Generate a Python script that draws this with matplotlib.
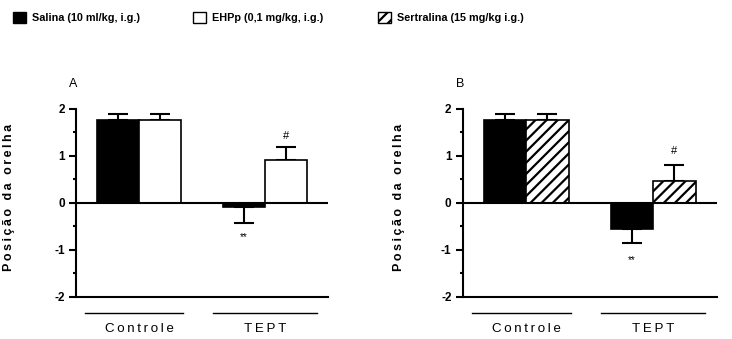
import matplotlib
matplotlib.use("Agg")
import matplotlib.pyplot as plt
import matplotlib.patches as mpatches
import numpy as np

# data
groups = ["Controle", "TEPT"]
salina_a = [1.77, -0.09]
salina_a_err = [0.13, 0.34]
ehpp = [1.77, 0.92]
ehpp_err = [0.13, 0.26]
salina_b = [1.77, -0.56]
salina_b_err = [0.13, 0.29]
sertralina = [1.77, 0.46]
sertralina_err = [0.13, 0.34]
yticks = [-2, -1, 0, 1, 2]
legend_labels = ["Salina (10 ml/kg, i.g.)", "EHPp (0,1 mg/kg, i.g.)", "Sertralina (15 mg/kg i.g.)"]
ylabel = "Posição da orelha"

FONT = ["Liberation Sans", "DejaVu Sans"]
plt.rcParams["font.family"] = FONT
plt.rcParams["hatch.linewidth"] = 1.6
plt.rcParams["hatch.color"] = "black"

THIN = "\u2009"


def spaced(s, sep=THIN):
    return sep.join(s)


fig = plt.figure(figsize=(7.32, 3.39), dpi=100)
ax_a = fig.add_axes([76 / 732, 0.1248, 252 / 732, 0.5537])
ax_b = fig.add_axes([462.7 / 732, 0.1248, 254 / 732, 0.5537])

W = 0.335
x = np.arange(len(groups))


def draw_bars(ax, vals, errs, color, hatch=""):
    xs = x + (-W / 2 if color == "black" else W / 2)
    ax.bar(xs, vals, width=W, color=color, edgecolor="black", linewidth=1.2,
           hatch=hatch, zorder=3)
    lo = [e if v < 0 else 0 for v, e in zip(vals, errs)]
    hi = [e if v >= 0 else 0 for v, e in zip(vals, errs)]
    ax.errorbar(xs, vals, yerr=[lo, hi], fmt="none", ecolor="black",
                elinewidth=1.5, capsize=7.5, capthick=1.5, zorder=2)


def style_axes(ax, label_x):
    ax.set_xlim(-0.5, 1.5)
    ax.set_ylim(-2, 2)
    ax.axhline(0, color="black", lw=1.5, zorder=4)
    ax.spines["top"].set_visible(False)
    ax.spines["right"].set_visible(False)
    ax.spines["left"].set_linewidth(1.5)
    ax.spines["bottom"].set_linewidth(1.5)
    ax.set_xticks([])
    ax.set_yticks(yticks)
    ax.set_yticks([-1.5, -0.5, 0.5, 1.5], minor=True)
    ax.set_yticklabels([str(t) for t in yticks], fontsize=8.5, fontweight="bold")
    ax.tick_params(axis="y", which="major", length=5, width=1.5, pad=3)
    ax.tick_params(axis="y", which="minor", length=2.5, width=1.5)
    ax.set_ylabel(spaced(ylabel), fontsize=9, fontweight="bold")
    ax.yaxis.set_label_coords(label_x, 0.527)
    tr = ax.get_xaxis_transform()
    for gx0, gx1 in [(-0.43, 0.35), (0.59, 1.41)]:
        ax.plot([gx0, gx1], [-0.088, -0.088], color="black", lw=1.0,
                transform=tr, clip_on=False)
    for gx, name in zip(x, groups):
        ax.text(gx, -0.174, spaced(name), transform=tr, ha="center",
                va="center", fontsize=9.6)


# panel A
draw_bars(ax_a, salina_a, salina_a_err, "black")
draw_bars(ax_a, ehpp, ehpp_err, "white")
style_axes(ax_a, -0.244)
ax_a.text(1 - W / 2, -0.72, "**", ha="center", va="center", fontsize=7)
ax_a.text(1 + W / 2, 1.42, "#", ha="center", va="center", fontsize=8)
ax_a.text(-0.01, 1.133, "A", transform=ax_a.transAxes, ha="center",
          va="center", fontsize=9)

# panel B
draw_bars(ax_b, salina_b, salina_b_err, "black")
draw_bars(ax_b, sertralina, sertralina_err, "white", hatch="///")
style_axes(ax_b, -0.227)
ax_b.text(1 - W / 2, -1.22, "**", ha="center", va="center", fontsize=7)
ax_b.text(1 + W / 2, 1.1, "#", ha="center", va="center", fontsize=8)
ax_b.text(-0.01, 1.133, "B", transform=ax_b.transAxes, ha="center",
          va="center", fontsize=9)

# legend entries
handles = [
    mpatches.Patch(facecolor="black", edgecolor="black"),
    mpatches.Patch(facecolor="white", edgecolor="black", linewidth=1.0),
    mpatches.Patch(facecolor="white", edgecolor="black", hatch="///"),
]
for h, lab, lx in zip(handles, legend_labels, [13 / 732, 193 / 732, 377.5 / 732]):
    fig.legend(handles=[h], labels=[lab], loc="center left",
               bbox_to_anchor=(lx, 0.948), frameon=False, borderpad=0,
               borderaxespad=0, handlelength=1.2, handleheight=1.2,
               handletextpad=0.6,
               prop={"size": 7.8, "weight": "bold", "family": FONT})

fig.savefig("out.png", dpi=100, facecolor="white")
